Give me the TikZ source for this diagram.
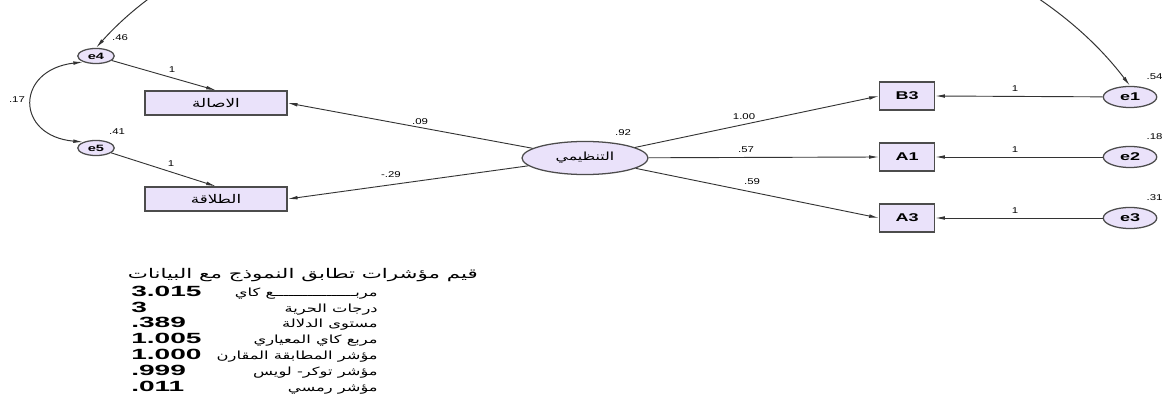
\documentclass[tikz,border=0pt]{standalone}
\usepackage{fontspec}
\setmainfont{Liberation Sans}
\newfontfamily\labelfont[FakeStretch=1.35]{Liberation Sans}
\newfontfamily\namefont[FakeStretch=1.6]{Liberation Sans}
\newfontfamily\tablenum[FakeStretch=1.9]{Liberation Sans}
\newfontfamily\boxarabic[Script=Arabic,FakeStretch=1.4]{DejaVu Sans}
\newfontfamily\tablearabic[Script=Arabic,FakeStretch=1.45]{DejaVu Sans}
\newfontfamily\headarabic[Script=Arabic,FakeStretch=1.6]{DejaVu Sans}
\TeXXeTstate=1
\usepackage{tikz}
\usetikzlibrary{positioning,arrows.meta,shapes.geometric}
\definecolor{boxfill}{RGB}{234,226,250}

\begin{document}
\begin{tikzpicture}[x=0.025cm,y=-0.025cm,
  obsbig/.style={rectangle,draw=black!70,line width=1pt,fill=boxfill,minimum width=101pt,minimum height=17pt,inner sep=0pt,font=\fontsize{8.5}{9}\boxarabic},
  obssmall/.style={rectangle,draw=black!70,line width=1pt,fill=boxfill,minimum width=39pt,minimum height=20pt,inner sep=0pt,font=\fontsize{8}{9}\namefont\bfseries},
  errbig/.style={ellipse,draw=black!70,line width=0.9pt,fill=boxfill,minimum width=38pt,minimum height=15pt,inner sep=0pt,font=\fontsize{8}{9}\namefont\bfseries},
  errsmall/.style={ellipse,draw=black!70,line width=0.9pt,fill=boxfill,minimum width=26pt,minimum height=10.7pt,inner sep=0pt,font=\fontsize{6.5}{7}\namefont\bfseries},
  latent/.style={ellipse,draw=black!70,line width=0.9pt,fill=boxfill,minimum width=89.6pt,minimum height=23.5pt,inner sep=0pt,font=\fontsize{8}{9}\boxarabic},
  lbl/.style={inner sep=1pt,font=\fontsize{6}{7}\labelfont},
  arr/.style={draw=black!80,line width=0.65pt,-{Latex[length=7pt,width=2.6pt]}},
  cov/.style={draw=black!80,line width=0.7pt,{Latex[length=7pt,width=2.6pt]}-{Latex[length=7pt,width=2.6pt]}},
  rownum/.style={anchor=base west,inner sep=0pt,font=\fontsize{10.5}{11}\tablenum\bfseries},
  rowtxt/.style={anchor=base east,inner sep=0pt,font=\fontsize{8}{9}\tablearabic}]
\fill[white] (0,0) rectangle (1162,406);
\useasboundingbox (0,0) rectangle (1162,406);

% observed and latent variables
\node[obsbig] (asala) at (216,103) {\beginR الاصالة\endR};
\node[obsbig] (talaqa) at (216,199) {\beginR الطلاقة\endR};
\node[latent] (tanzimi) at (585,158) {\beginR التنظيمي\endR};
\node[obssmall] (B3) at (907,96) {B3};
\node[obssmall] (A1) at (907,157) {A1};
\node[obssmall] (A3) at (907,218) {A3};

% errors
\node[errsmall] (e4) at (96,56) {e4};
\node[errsmall] (e5) at (96,148) {e5};
\node[errbig] (e1) at (1130,97) {e1};
\node[errbig] (e2) at (1130,157) {e2};
\node[errbig] (e3) at (1130,218) {e3};

\draw[arr] (tanzimi) -- (asala.east);
\draw[arr] (tanzimi) -- (talaqa.east);
\draw[arr] (tanzimi) -- (B3.west);
\draw[arr] (tanzimi) -- (A1.west);
\draw[arr] (tanzimi) -- (A3.west);
\draw[arr] (e4) -- (asala.north);
\draw[arr] (e5) -- (talaqa.north);
\draw[arr] (e1) -- (B3.east);
\draw[arr] (e2) -- (A1.east);
\draw[arr] (e3) -- (A3.east);

\draw[cov] (e4.205) .. controls (15,70) and (15,136) .. (e5.155);
\draw[cov] (e4.north) .. controls (300,-180) and (933,-174) .. (e1.north);

% estimates
\node[lbl] at (120,38) {.46};
\node[lbl] at (117,132) {.41};
\node[lbl] at (17,100) {.17};
\node[lbl] at (172,70) {1};
\node[lbl] at (171,164) {1};
\node[lbl] at (420,122) {.09};
\node[lbl] at (391,175) {-.29};
\node[lbl] at (623,133) {.92};
\node[lbl] at (744,117) {1.00};
\node[lbl] at (746,150) {.57};
\node[lbl] at (752,182) {.59};
\node[lbl] at (1015,89) {1};
\node[lbl] at (1015,150) {1};
\node[lbl] at (1015,211) {1};
\node[lbl,anchor=west] at (1145,77) {.54};
\node[lbl,anchor=west] at (1145,137) {.18};
\node[lbl,anchor=west] at (1145,198) {.31};

% fit indices
\node[rowtxt,font=\fontsize{9.5}{10}\headarabic] (head) at (478,278) {\beginR قيم مؤشرات تطابق النموذج مع البيانات\endR};
\node[rownum] (chival) at (131,296) {3.015};
\node[rowtxt] (chi) at (378,296) {\beginR مربـــــــــــــــــع كاي\endR};
\node[rownum] (dfval) at (131,312) {3};
\node[rowtxt] (df) at (378,312) {\beginR درجات الحرية\endR};
\node[rownum] (pval) at (131,327) {.389};
\node[rowtxt] (p) at (378,327) {\beginR مستوى الدلالة\endR};
\node[rownum] (cminval) at (131,343) {1.005};
\node[rowtxt] (cmin) at (378,343) {\beginR مربع كاي المعياري\endR};
\node[rownum] (cfival) at (131,359) {1.000};
\node[rowtxt] (cfi) at (378,359) {\beginR مؤشر المطابقة المقارن\endR};
\node[rownum] (tlival) at (131,375) {.999};
\node[rowtxt] (tli) at (378,375) {\beginR مؤشر توكر- لويس\endR};
\node[rownum] (rmseaval) at (131,391) {.011};
\node[rowtxt] (rmsea) at (378,391) {\beginR مؤشر رمسي\endR};
\end{tikzpicture}
\end{document}
